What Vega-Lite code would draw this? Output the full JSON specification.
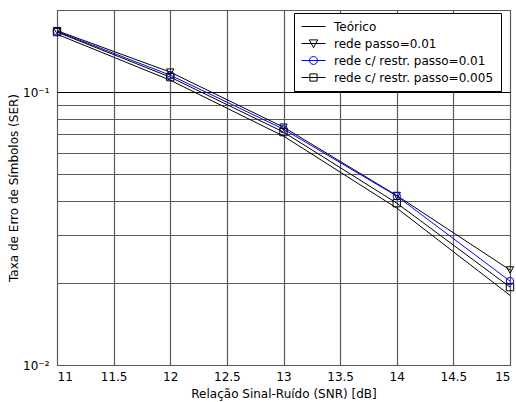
{
  "$schema": "https://vega.github.io/schema/vega-lite/v6.json",
  "width": 453,
  "height": 355,
  "autosize": {"type": "none"},
  "padding": {"left": 57, "top": 10, "right": 6, "bottom": 37},
  "background": "white",
  "config": {
    "view": {"stroke": "black", "strokeWidth": 1},
    "font": "DejaVu Sans",
    "axis": {
      "labelFont": "DejaVu Sans",
      "titleFont": "DejaVu Sans",
      "labelFontSize": 12,
      "titleFontSize": 12,
      "titleFontWeight": "normal",
      "labelColor": "black",
      "titleColor": "black",
      "ticks": false,
      "domain": false,
      "grid": true,
      "gridColor": "#5a5a5a",
      "gridWidth": 1.2,
      "gridOpacity": 1
    }
  },
  "data": {
    "values": [
      {"series": "Teórico", "snr": 11, "ser": 0.163},
      {"series": "Teórico", "snr": 12, "ser": 0.1106},
      {"series": "Teórico", "snr": 13, "ser": 0.069},
      {"series": "Teórico", "snr": 14, "ser": 0.0376},
      {"series": "Teórico", "snr": 15, "ser": 0.018},
      {"series": "rede passo=0.01", "snr": 11, "ser": 0.168},
      {"series": "rede passo=0.01", "snr": 12, "ser": 0.1184},
      {"series": "rede passo=0.01", "snr": 13, "ser": 0.0744},
      {"series": "rede passo=0.01", "snr": 14, "ser": 0.0418},
      {"series": "rede passo=0.01", "snr": 15, "ser": 0.0223},
      {"series": "rede c/ restr. passo=0.01", "snr": 11, "ser": 0.167},
      {"series": "rede c/ restr. passo=0.01", "snr": 12, "ser": 0.1154},
      {"series": "rede c/ restr. passo=0.01", "snr": 13, "ser": 0.0732},
      {"series": "rede c/ restr. passo=0.01", "snr": 14, "ser": 0.0416},
      {"series": "rede c/ restr. passo=0.01", "snr": 15, "ser": 0.0203},
      {"series": "rede c/ restr. passo=0.005", "snr": 11, "ser": 0.166},
      {"series": "rede c/ restr. passo=0.005", "snr": 12, "ser": 0.1135},
      {"series": "rede c/ restr. passo=0.005", "snr": 13, "ser": 0.0714},
      {"series": "rede c/ restr. passo=0.005", "snr": 14, "ser": 0.0392},
      {"series": "rede c/ restr. passo=0.005", "snr": 15, "ser": 0.0193}
    ]
  },
  "encoding": {
    "x": {
      "field": "snr",
      "type": "quantitative",
      "scale": {"domain": [11, 15], "nice": false, "zero": false},
      "axis": {
        "values": [11, 11.5, 12, 12.5, 13, 13.5, 14, 14.5, 15],
        "format": "~g",
        "title": "Relação Sinal-Ruído (SNR) [dB]",
        "labelPadding": 6,
        "titlePadding": 6
      }
    },
    "y": {
      "field": "ser",
      "type": "quantitative",
      "scale": {"type": "log", "domain": [0.01, 0.2], "nice": false},
      "axis": {
        "values": [0.01, 0.02, 0.03, 0.04, 0.05, 0.06, 0.07, 0.08, 0.09, 0.1, 0.2],
        "labelExpr": "datum.value == 0.1 ? '10⁻¹' : (datum.value == 0.01 ? '10⁻²' : '')",
        "gridColor": {"condition": {"test": "datum.value == 0.1", "value": "black"}, "value": "#5a5a5a"},
        "title": "Taxa de Erro de Símbolos (SER)",
        "labelPadding": 8,
        "titlePadding": 2
      }
    }
  },
  "layer": [
    {
      "mark": {"type": "line", "strokeWidth": 1},
      "encoding": {
        "color": {
          "field": "series",
          "type": "nominal",
          "scale": {
            "domain": ["Teórico", "rede passo=0.01", "rede c/ restr. passo=0.01", "rede c/ restr. passo=0.005"],
            "range": ["black", "black", "#0000ff", "black"]
          },
          "legend": null
        }
      }
    },
    {
      "transform": [{"filter": "datum.series != 'Teórico'"}],
      "mark": {"type": "point", "filled": false, "size": 55, "strokeWidth": 1, "opacity": 1},
      "encoding": {
        "color": {
          "field": "series",
          "type": "nominal",
          "scale": {
            "domain": ["rede passo=0.01", "rede c/ restr. passo=0.01", "rede c/ restr. passo=0.005"],
            "range": ["black", "#0000ff", "black"]
          },
          "legend": null
        },
        "shape": {
          "field": "series",
          "type": "nominal",
          "scale": {
            "domain": ["rede passo=0.01", "rede c/ restr. passo=0.01", "rede c/ restr. passo=0.005"],
            "range": ["triangle-down", "circle", "square"]
          },
          "legend": null
        }
      }
    },
    {
      "mark": {"type": "point", "filled": false, "opacity": 0},
      "encoding": {
        "color": {
          "field": "series",
          "type": "nominal",
          "scale": {
            "domain": ["Teórico", "rede passo=0.01", "rede c/ restr. passo=0.01", "rede c/ restr. passo=0.005"],
            "range": ["black", "black", "#0000ff", "black"]
          },
          "legend": {
            "title": null,
            "orient": "none",
            "legendX": 237,
            "legendY": 3,
            "fillColor": "white",
            "strokeColor": "black",
            "padding": 7,
            "symbolSize": 576,
            "symbolStrokeWidth": 1,
            "symbolFillColor": "transparent",
            "symbolOpacity": 1,
            "labelFont": "DejaVu Sans",
            "labelFontSize": 12,
            "labelColor": "black",
            "labelOffset": 8,
            "labelLimit": 300,
            "clipHeight": 13,
            "rowPadding": 4
          }
        },
        "shape": {
          "field": "series",
          "type": "nominal",
          "scale": {
            "domain": ["Teórico", "rede passo=0.01", "rede c/ restr. passo=0.01", "rede c/ restr. passo=0.005"],
            "range": [
              "M-1,0H1",
              "M-1,0H1M-0.35,-0.3L0.35,-0.3L0,0.35Z",
              "M-1,0H1M-0.33,0A0.33,0.33,0,1,0,0.33,0A0.33,0.33,0,1,0,-0.33,0Z",
              "M-1,0H1M-0.3,-0.3H0.3V0.3H-0.3Z"
            ]
          },
          "legend": {
            "title": null,
            "orient": "none",
            "legendX": 237,
            "legendY": 3,
            "fillColor": "white",
            "strokeColor": "black",
            "padding": 7,
            "symbolSize": 576,
            "symbolStrokeWidth": 1,
            "symbolFillColor": "transparent",
            "symbolOpacity": 1,
            "labelFont": "DejaVu Sans",
            "labelFontSize": 12,
            "labelColor": "black",
            "labelOffset": 8,
            "labelLimit": 300,
            "clipHeight": 13,
            "rowPadding": 4
          }
        }
      }
    }
  ],
  "resolve": {"scale": {"shape": "independent", "color": "independent"}}
}
